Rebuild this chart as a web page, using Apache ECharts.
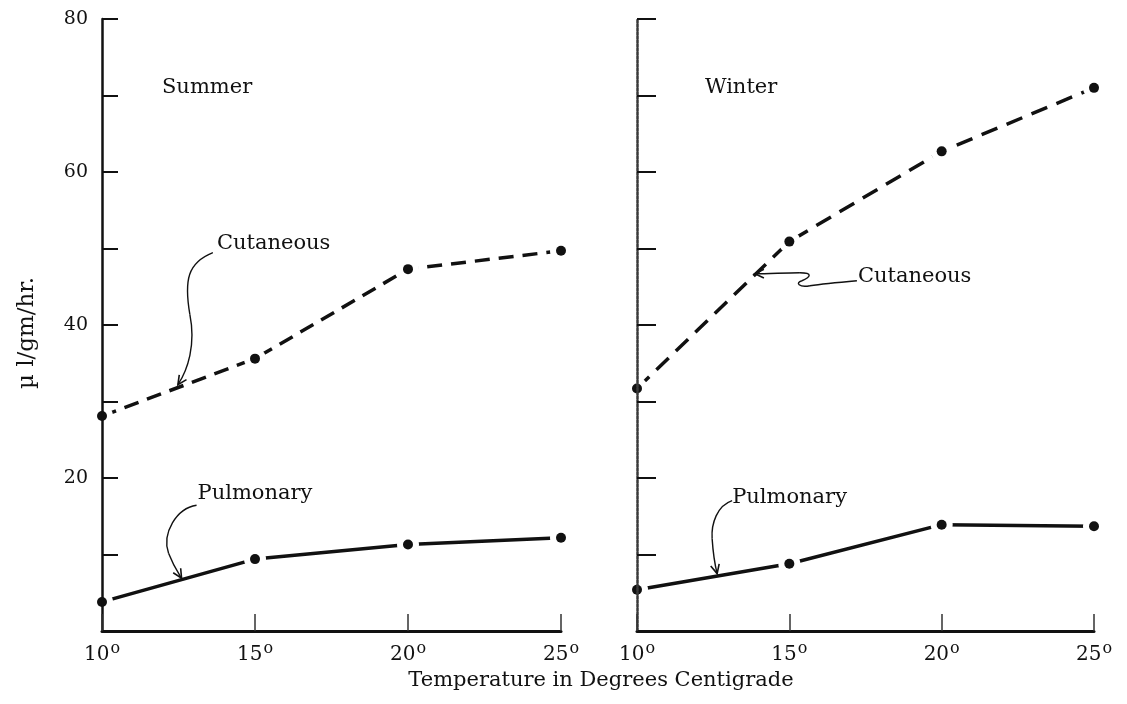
<!DOCTYPE html>
<html>
<head>
<meta charset="utf-8">
<title>Water loss vs temperature</title>
<script src="https://cdn.jsdelivr.net/npm/echarts@6/dist/echarts.min.js"></script>
<style>
  html, body { margin: 0; padding: 0; background: #fff; }
  #chart { width: 1127px; height: 704px; }
</style>
</head>
<body>
<div id="chart"></div>
<script>
// Temperatures (°C) and evaporative water loss (µl/gm/hr)
const temps = [10, 15, 20, 25];
const summerCutaneous = [28.1, 35.6, 47.3, 49.7];
const summerPulmonary = [3.8, 9.4, 11.3, 12.2];
const winterCutaneous = [31.7, 50.9, 62.7, 71.0];
const winterPulmonary = [5.4, 8.8, 13.9, 13.7];
const yLabelValues = [20, 40, 60, 80];

const FONT = '"DejaVu Serif", "Liberation Serif", serif';
const INK = '#111';

const pairs = vals => temps.map((t, i) => [t, vals[i]]);

function xAxisFor(grid) {
  return {
    gridIndex: grid, type: 'value', min: 10, max: 25, interval: 5, z: 5,
    axisLine: { show: true, lineStyle: { color: INK, width: 3 } },
    axisTick: { show: true, inside: true, length: 17, lineStyle: { color: '#333', width: 1.5 } },
    splitLine: { show: false },
    axisLabel: {
      margin: 10,
      formatter: v => '{n|' + v + '}{s|o}',
      rich: {
        n: { fontFamily: FONT, fontSize: 20, color: INK, lineHeight: 27 },
        s: { fontFamily: FONT, fontSize: 16, color: INK, lineHeight: 11, verticalAlign: 'top', padding: [0, 0, 0, 1] }
      }
    }
  };
}

function yAxisFor(grid, withLabels) {
  return {
    gridIndex: grid, type: 'value', min: 0, max: 80, interval: 10, z: 5,
    axisLine: { show: true, lineStyle: withLabels
      ? { color: INK, width: 2.5 }
      : { color: '#3a3a3a', width: 2.5, type: [3, 1] } },
    axisTick: { show: true, inside: true, length: withLabels ? 16 : 19, lineStyle: { color: INK, width: 2 } },
    splitLine: { show: false },
    axisLabel: {
      show: withLabels, margin: 14, fontFamily: FONT, fontSize: 19, color: INK,
      formatter: v => yLabelValues.includes(v) ? String(v) : ''
    }
  };
}

// Each curve: the line itself, a white halo that opens a gap round each
// reading, then the black dot on top.
function curve(grid, vals, dash) {
  const common = { xAxisIndex: grid, yAxisIndex: grid, data: pairs(vals), silent: true, emphasis: { disabled: true } };
  return [
    Object.assign({ type: 'line', showSymbol: false, z: 2,
      lineStyle: { color: INK, width: 3.5, type: dash || 'solid' } }, common),
    Object.assign({ type: 'scatter', symbol: 'circle', symbolSize: 22, z: 3,
      itemStyle: { color: '#fff', opacity: 1 } }, common),
    Object.assign({ type: 'scatter', symbol: 'circle', symbolSize: 10, z: 4,
      itemStyle: { color: INK, opacity: 1 } }, common)
  ];
}

const chart = echarts.init(document.getElementById('chart'), null, { renderer: 'canvas' });

chart.setOption({
  animation: false,
  backgroundColor: '#fff',
  grid: [
    { left: 102, top: 19, width: 459, height: 612 },
    { left: 637, top: 19, width: 457, height: 612 }
  ],
  xAxis: [xAxisFor(0), xAxisFor(1)],
  yAxis: [yAxisFor(0, true), yAxisFor(1, false)],
  series: [].concat(
    curve(0, summerCutaneous, [15, 9]),
    curve(0, summerPulmonary),
    curve(1, winterCutaneous, [17, 10]),
    curve(1, winterPulmonary)
  )
});

// Curved pointer arrows: tip in data space, curve offsets in pixels from the tip
const pointers = [
  { grid: 0, tip: [12.48, 32.2], text: 'Cutaneous', label: [39, -141],
    segs: [[35, -132, 10, -122, 6, -105, 12, -70], [12, -70, 18, -40, 10, -15, 0, 0]] },
  { grid: 0, tip: [12.6, 6.9], text: 'Pulmonary', label: [16, -85],
    segs: [[15, -73, -5, -70, -20, -45, -13, -25], [-13, -25, -8, -12, -3, -5, 0, 0]] },
  { grid: 1, tip: [12.63, 7.5], text: 'Pulmonary', label: [15, -76],
    segs: [[15, -73, 0, -68, -6, -50, -5, -35], [-5, -35, -4, -20, -2, -8, 0, 0]] },
  { grid: 1, tip: [13.87, 46.7], text: 'Cutaneous', label: [103, 3],
    segs: [[102, 7, 80, 9, 62, 11, 55, 12], [55, 12, 44, 14, 40, 9, 47, 7], [47, 7, 56, 3, 58, -1, 45, -1], [45, -1, 30, -1, 15, 0, 0, 0]] }
];

const graphics = [];
const textStyle = (text, x, y, align, vAlign, size) => ({
  text, x, y, font: (size || 21) + 'px ' + FONT, fill: INK,
  align, verticalAlign: vAlign, textAlign: align, textVerticalAlign: vAlign
});

pointers.forEach(p => {
  const [tx, ty] = chart.convertToPixel({ gridIndex: p.grid }, p.tip);
  p.segs.forEach(s => {
    graphics.push({
      type: 'bezierCurve', silent: true, z: 10,
      shape: { x1: tx + s[0], y1: ty + s[1], cpx1: tx + s[2], cpy1: ty + s[3],
               cpx2: tx + s[4], cpy2: ty + s[5], x2: tx + s[6], y2: ty + s[7] },
      style: { stroke: INK, lineWidth: 1.4, fill: null }
    });
  });
  // arrowhead from the direction of the last control point
  const last = p.segs[p.segs.length - 1];
  const ang = Math.atan2(last[7] - last[5], last[6] - last[4]);
  const len = 10, spread = 0.45;
  graphics.push({
    type: 'polyline', silent: true, z: 10,
    shape: { points: [
      [tx - len * Math.cos(ang - spread), ty - len * Math.sin(ang - spread)],
      [tx, ty],
      [tx - len * Math.cos(ang + spread), ty - len * Math.sin(ang + spread)]
    ] },
    style: { stroke: INK, lineWidth: 1.6, fill: null }
  });
  graphics.push({
    type: 'text', silent: true, z: 10,
    style: textStyle(p.text, tx + p.label[0], ty + p.label[1], 'left', 'middle')
  });
});

// Panel names
const summerPos = chart.convertToPixel({ gridIndex: 0 }, [11.96, 71.1]);
const winterPos = chart.convertToPixel({ gridIndex: 1 }, [12.23, 71.1]);
graphics.push({ type: 'text', silent: true, style: textStyle('Summer', summerPos[0], summerPos[1], 'left', 'middle') });
graphics.push({ type: 'text', silent: true, style: textStyle('Winter', winterPos[0], winterPos[1], 'left', 'middle') });

// Axis titles
graphics.push({
  type: 'text', silent: true, x: 27, y: 333, rotation: Math.PI / 2,
  style: textStyle('µ l/gm/hr.', 0, 0, 'center', 'middle', 23)
});
graphics.push({
  type: 'text', silent: true,
  style: textStyle('Temperature in Degrees Centigrade', 601, 681, 'center', 'middle')
});

chart.setOption({ graphic: { elements: graphics } });
</script>
</body>
</html>
